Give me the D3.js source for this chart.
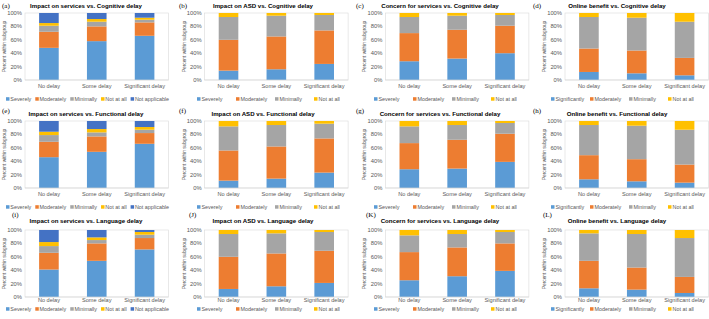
<!DOCTYPE html>
<html lang="en">
<head>
  <meta charset="UTF-8">
  <title>Stacked bars by delay group</title>
  <script src="https://d3js.org/d3.v7.min.js"></script>
  <style>
    body { margin: 0; background: #fff; }
    svg { display: block; font-family: 'Liberation Sans', Arial, sans-serif; }
    .tick-label { font-size: 5.8px; fill: #595959; }
    .cat-label { font-size: 5.6px; fill: #595959; }
    .legend-label { font-size: 5.4px; fill: #595959; }
    .title { font-size: 6.1px; font-weight: bold; fill: #000; }
    .panel-label { font-family: 'Liberation Serif', serif; font-size: 7px; fill: #000; }
    .y-title { font-size: 4.8px; fill: #595959; }
  </style>
</head>
<body>
<svg id="chart" width="709" height="319"></svg>
<script>
  // categories
  const groups = ["No delay", "Some delay", "Significant delay"];
  const delayTypes = ["Cognitive delay", "Functional delay", "Language delay"];
  const outcomes = ["Impact on services", "Impact on ASD", "Concern for services", "Online benefit"];
  const panelLabels = ["(a)", "(b)", "(c)", "(d)", "(e)", "(f)", "(g)", "(h)", "(i)", "(J)", "(K)", "(L)"];

  const keysServices = ["Severely", "Moderately", "Minimally", "Not at all", "Not applicable"];
  const keysImpact = ["Severely", "Moderately", "Minimally", "Not at all"];
  const keysBenefit = ["Significantly", "Moderately", "Minimally", "Not at all"];

  // values: one row per delay group, % within subgroup
  const servicesCognitive = [[48, 24, 9, 4, 15], [58, 22, 7, 4, 9], [66, 20, 4, 3, 7]];
  const asdCognitive      = [[14, 46, 34, 6], [16, 49, 31, 4], [24, 50, 23, 3]];
  const concernCognitive  = [[28, 42, 24, 6], [32, 43, 21, 4], [40, 41, 16, 3]];
  const benefitCognitive  = [[12, 35, 47, 6], [10, 34, 49, 7], [7, 26, 54, 13]];

  const servicesFunctional = [[46, 23, 10, 5, 16], [54, 23, 6, 5, 12], [66, 16, 5, 4, 9]];
  const asdFunctional      = [[11, 45, 36, 8], [14, 48, 32, 6], [23, 51, 22, 4]];
  const concernFunctional  = [[28, 39, 25, 8], [29, 43, 22, 6], [39, 42, 16, 3]];
  const benefitFunctional  = [[13, 36, 45, 6], [10, 33, 50, 7], [8, 27, 52, 13]];

  const servicesLanguage = [[41, 25, 10, 6, 18], [54, 26, 5, 4, 11], [71, 17, 5, 4, 3]];
  const asdLanguage      = [[12, 48, 34, 6], [16, 49, 30, 5], [21, 48, 28, 3]];
  const concernLanguage  = [[25, 42, 25, 8], [31, 43, 20, 6], [39, 41, 17, 3]];
  const benefitLanguage  = [[13, 41, 41, 5], [11, 33, 50, 6], [6, 24, 58, 12]];

  const yTicks = [0, 20, 40, 60, 80, 100];

  const panelValues = [
    servicesCognitive, asdCognitive, concernCognitive, benefitCognitive,
    servicesFunctional, asdFunctional, concernFunctional, benefitFunctional,
    servicesLanguage, asdLanguage, concernLanguage, benefitLanguage
  ];
  const panelKeys = [keysServices, keysImpact, keysImpact, keysBenefit];

  const colors = {
    "Severely": "#5b9bd5", "Significantly": "#5b9bd5",
    "Moderately": "#ed7d31", "Minimally": "#a5a5a5",
    "Not at all": "#ffc000", "Not applicable": "#4472c4"
  };

  // layout
  const colLeft = [25, 204.6, 385.4, 565];
  const colX0 = [0, 177, 354, 531];
  const plotW = 143.5, plotH = 67;
  const rowTop = [13, 121, 230];
  const titleY = [7.5, 116, 223];
  const labelY = [8, 112.5, 217];
  const catY = [88, 196, 302];
  const legendY = [101, 209, 311];

  const svg = d3.select("#chart");

  panelValues.forEach((vals, i) => {
    const r = Math.floor(i / 4), c = i % 4;
    const keys = panelKeys[c];
    const left = colLeft[c], top = rowTop[r];

    const rows = groups.map((gName, gi) => {
      const o = { group: gName };
      keys.forEach((k, ki) => o[k] = vals[gi][ki]);
      return o;
    });
    const series = d3.stack().keys(keys)(rows);

    const x = d3.scaleBand().domain(groups).range([left, left + plotW]).paddingInner(0.59).paddingOuter(0.295);
    const y = d3.scaleLinear().domain([0, 100]).range([top + plotH, top]);

    // plot area border
    svg.append("rect")
      .attr("x", left).attr("y", top)
      .attr("width", plotW).attr("height", plotH)
      .attr("fill", "none").attr("stroke", "#d9d9d9").attr("stroke-width", 0.6);

    svg.append("g").selectAll("g")
      .data(series)
      .join("g")
      .attr("fill", d => colors[d.key])
      .selectAll("rect")
      .data(d => d)
      .join("rect")
      .attr("x", d => x(d.data.group))
      .attr("y", d => y(d[1]))
      .attr("width", x.bandwidth())
      .attr("height", d => y(d[0]) - y(d[1]));

    // bottom axis line
    svg.append("line")
      .attr("x1", left).attr("x2", left + plotW)
      .attr("y1", y(0)).attr("y2", y(0))
      .attr("stroke", "#d9d9d9").attr("stroke-width", 0.7);

    svg.append("g").selectAll("text")
      .data(yTicks)
      .join("text")
      .attr("class", "tick-label")
      .attr("x", left - 3)
      .attr("y", d => y(d) + 2)
      .attr("text-anchor", "end")
      .text(d => d + "%");

    svg.append("g").selectAll("text")
      .data(groups)
      .join("text")
      .attr("class", "cat-label")
      .attr("x", d => x(d) + x.bandwidth() / 2)
      .attr("y", catY[r])
      .attr("text-anchor", "middle")
      .text(d => d);

    svg.append("text")
      .attr("class", "y-title")
      .attr("transform", `translate(${left - 19},${top + plotH / 2}) rotate(-90)`)
      .attr("text-anchor", "middle")
      .text("Percent within subgroup");

    svg.append("text")
      .attr("class", "title")
      .attr("x", colX0[c] + 86)
      .attr("y", titleY[r])
      .attr("text-anchor", "middle")
      .text(outcomes[c] + " vs. " + delayTypes[r]);

    svg.append("text")
      .attr("class", "panel-label")
      .attr("x", colX0[c] + (r === 2 ? 12 : 2))
      .attr("y", labelY[r])
      .text(panelLabels[i]);

    // legend
    const lg = svg.append("g");
    if (keys.length === 5) {
      let lx = colX0[c] + 6;
      keys.forEach(k => {
        lg.append("rect").attr("x", lx).attr("y", legendY[r] - 3.8)
          .attr("width", 3.5).attr("height", 3.5).attr("fill", colors[k]);
        const t = lg.append("text").attr("class", "legend-label")
          .attr("x", lx + 4.3).attr("y", legendY[r]).text(k);
        lx += 4.3 + t.node().getComputedTextLength() + 4;
      });
    } else {
      keys.forEach((k, ki) => {
        const lx = colX0[c] + 20 + ki * 39;
        lg.append("rect").attr("x", lx).attr("y", legendY[r] - 3.8)
          .attr("width", 3.5).attr("height", 3.5).attr("fill", colors[k]);
        lg.append("text").attr("class", "legend-label")
          .attr("x", lx + 4.5).attr("y", legendY[r]).text(k);
      });
    }
  });
</script>
</body>
</html>
